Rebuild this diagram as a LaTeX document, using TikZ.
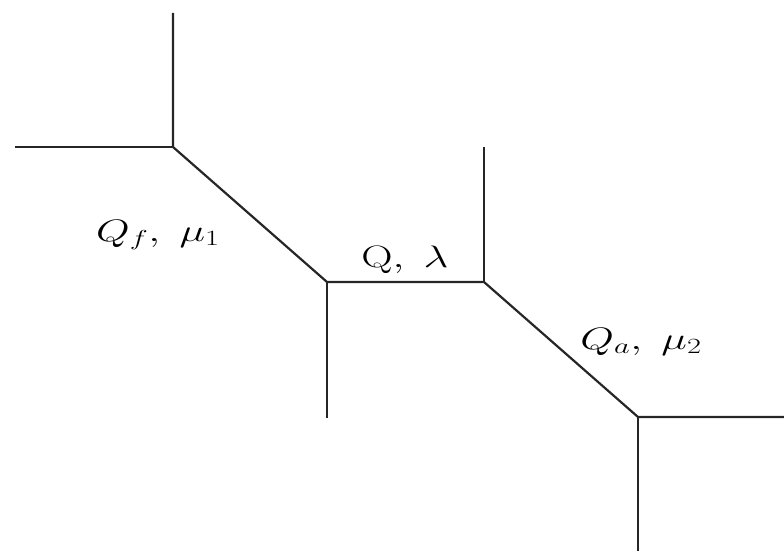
\RequirePackage{fix-cm}
\documentclass[tikz,border=0pt]{standalone}
\begin{document}
\begin{tikzpicture}[x=1pt,y=-1pt,
  edge/.style={line width=2.2pt,black!85},
  lab/.style={font=\fontsize{31}{38}\selectfont,inner sep=0pt,anchor=base,xscale=1.4,transform shape}]
\useasboundingbox (0,0) rectangle (784,551);
\coordinate (A) at (173,147);
\coordinate (B) at (327,282);
\coordinate (C) at (484,282);
\coordinate (D) at (638,417);
\coordinate (A1) at (173,13);
\coordinate (A2) at (15,147);
\coordinate (B1) at (327,418);
\coordinate (C1) at (484,147);
\coordinate (D1) at (784,417);
\coordinate (D2) at (638,551);
\draw[edge] (A1) -- (A) -- (B) -- (C) -- (D) -- (D1);
\draw[edge] (A2) -- (A);
\draw[edge] (B) -- (B1);
\draw[edge] (C1) -- (C);
\draw[edge] (D) -- (D2);
\node[lab] (l1) at (158,241) {$Q_f,\;\mu_1$};
\node[lab] (l2) at (405,267) {$\mathrm{Q},\;\lambda$};
\node[lab] (l3) at (641,349) {$Q_a,\;\mu_2$};
\end{tikzpicture}
\end{document}
